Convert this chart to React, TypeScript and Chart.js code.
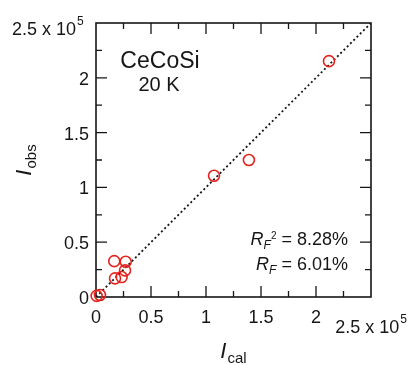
import React, { useEffect, useRef } from 'react';
import { Chart, registerables } from 'chart.js';

Chart.register(...registerables);

// ---- data (intensities) ----
const calValues = [600, 3600, 16600, 27000, 17300, 23300, 26400, 107300, 139000, 211800];
const obsValues = [1000, 1800, 32700, 32200, 17000, 18200, 24300, 110600, 125000, 215200];
const axisMin = 0;
const axisMax = 250000;
const majorTickValues = [0, 50000, 100000, 150000, 200000];
const majorTickLabels = ['0', '0.5', '1', '1.5', '2'];
const minorTickValues = [25000, 75000, 125000, 175000, 225000];
const scaleMantissa = '2.5 x 10';
const scaleExponent = '5';
const sampleName = 'CeCoSi';
const temperatureLabel = '20 K';
const rf2Value = '8.28%';
const rfValue = '6.01%';

const FONT = '"Liberation Sans", Arial, Helvetica, sans-serif';
const INK = '#161616';
const RED = '#e3241e';

type Seg = { text: string; size: number; italic?: boolean; dy?: number; dx?: number };

function drawRich(ctx: CanvasRenderingContext2D, x: number, y: number, segs: Seg[], align: 'left' | 'center' | 'right') {
  ctx.save();
  ctx.textBaseline = 'alphabetic';
  ctx.textAlign = 'left';
  const widths = segs.map((s) => {
    ctx.font = `${s.italic ? 'italic ' : ''}${s.size}px ${FONT}`;
    return ctx.measureText(s.text).width + (s.dx || 0);
  });
  const total = widths.reduce((a, b) => a + b, 0);
  let cx = align === 'left' ? x : align === 'center' ? x - total / 2 : x - total;
  segs.forEach((s, i) => {
    ctx.font = `${s.italic ? 'italic ' : ''}${s.size}px ${FONT}`;
    ctx.fillText(s.text, cx + (s.dx || 0), y + (s.dy || 0));
    cx += widths[i];
  });
  ctx.restore();
}

const framePlugin = {
  id: 'frame',
  beforeDatasetsDraw(chart: any) {
    const { ctx, chartArea } = chart;
    const xs = chart.scales.x;
    const ys = chart.scales.y;
    const { left, right, top, bottom } = chartArea;
    ctx.save();
    ctx.strokeStyle = INK;
    ctx.lineWidth = 1.6;
    ctx.strokeRect(left, top, right - left, bottom - top);
    ctx.lineWidth = 1.3;
    const major = 11;
    const minor = 6;
    const drawTicks = (vals: number[], len: number) => {
      vals.forEach((v) => {
        if (v === axisMin) return;
        const px = xs.getPixelForValue(v);
        const py = ys.getPixelForValue(v);
        ctx.beginPath();
        ctx.moveTo(px, bottom);
        ctx.lineTo(px, bottom - len);
        ctx.moveTo(px, top);
        ctx.lineTo(px, top + len);
        ctx.moveTo(left, py);
        ctx.lineTo(left + len, py);
        ctx.moveTo(right, py);
        ctx.lineTo(right - len, py);
        ctx.stroke();
      });
    };
    drawTicks(majorTickValues, major);
    drawTicks(minorTickValues, minor);
    ctx.restore();
  },
  afterDraw(chart: any) {
    const { ctx, chartArea } = chart;
    const xs = chart.scales.x;
    const ys = chart.scales.y;
    ctx.save();
    ctx.fillStyle = INK;
    ctx.font = `18px ${FONT}`;
    // y tick labels
    ctx.textAlign = 'right';
    ctx.textBaseline = 'alphabetic';
    majorTickValues.forEach((v, i) => {
      ctx.fillText(majorTickLabels[i], chartArea.left - 7, ys.getPixelForValue(v) + 7);
    });
    // x tick labels
    ctx.textAlign = 'center';
    majorTickValues.forEach((v, i) => {
      ctx.fillText(majorTickLabels[i], xs.getPixelForValue(v), chartArea.bottom + 26);
    });
    // scale exponent labels
    drawRich(ctx, 12, 35, [
      { text: scaleMantissa, size: 18 },
      { text: scaleExponent, size: 12, dy: -10, dx: 1 },
    ], 'left');
    drawRich(ctx, xs.getPixelForValue(axisMax), chartArea.bottom + 36, [
      { text: scaleMantissa, size: 18 },
      { text: scaleExponent, size: 12, dy: -10, dx: 1 },
    ], 'center');
    // axis titles
    drawRich(ctx, (chartArea.left + chartArea.right) / 2, 358, [
      { text: 'I', size: 22, italic: true },
      { text: 'cal', size: 15, dy: 5, dx: 1 },
    ], 'center');
    ctx.save();
    ctx.translate(31, (chartArea.top + chartArea.bottom) / 2);
    ctx.rotate(-Math.PI / 2);
    drawRich(ctx, 0, 0, [
      { text: 'I', size: 22, italic: true },
      { text: 'obs', size: 15, dy: 5, dx: 1 },
    ], 'center');
    ctx.restore();
    // annotations
    drawRich(ctx, 160, 68, [{ text: sampleName, size: 23 }], 'center');
    drawRich(ctx, 159, 91, [{ text: temperatureLabel, size: 20 }], 'center');
    drawRich(ctx, 348, 245, [
      { text: 'R', size: 18, italic: true },
      { text: 'F', size: 12, italic: true, dy: 4 },
      { text: '2', size: 10, dy: -6 },
      { text: ' = ' + rf2Value, size: 18 },
    ], 'right');
    drawRich(ctx, 348, 270, [
      { text: 'R', size: 18, italic: true },
      { text: 'F', size: 12, italic: true, dy: 4 },
      { text: ' = ' + rfValue, size: 18 },
    ], 'right');
    ctx.restore();
  },
};

export default function App() {
  const canvasRef = useRef<HTMLCanvasElement | null>(null);

  useEffect(() => {
    const canvas = canvasRef.current;
    if (!canvas) return;
    const points = calValues.map((c, i) => ({ x: c, y: obsValues[i] }));
    const chart = new Chart(canvas, {
      type: 'scatter',
      data: {
        datasets: [
          {
            type: 'line',
            data: [
              { x: axisMin, y: axisMin },
              { x: axisMax, y: axisMax },
            ],
            borderColor: INK,
            borderWidth: 1.8,
            borderDash: [2, 2.6],
            pointRadius: 0,
            fill: false,
            order: 2,
          } as any,
          {
            data: points,
            pointStyle: 'circle',
            pointRadius: 5.5,
            pointBorderWidth: 1.6,
            pointBorderColor: RED,
            pointBackgroundColor: 'rgba(0,0,0,0)',
            borderColor: RED,
            backgroundColor: 'rgba(0,0,0,0)',
            clip: false,
            order: 1,
          } as any,
        ],
      },
      options: {
        animation: false,
        responsive: false,
        maintainAspectRatio: false,
        devicePixelRatio: 1,
        layout: { padding: { left: 96, top: 23, right: 42, bottom: 68 } },
        plugins: { legend: { display: false }, tooltip: { enabled: false } },
        scales: {
          x: { type: 'linear', min: axisMin, max: axisMax, display: false },
          y: { type: 'linear', min: axisMin, max: axisMax, display: false },
        },
      },
      plugins: [framePlugin],
    });
    return () => chart.destroy();
  }, []);

  return (
    <div style={{ position: 'fixed', left: 0, top: 0, width: 413, height: 365, background: '#fff' }}>
      <canvas ref={canvasRef} width={413} height={365} style={{ width: 413, height: 365, display: 'block' }} />
    </div>
  );
}
